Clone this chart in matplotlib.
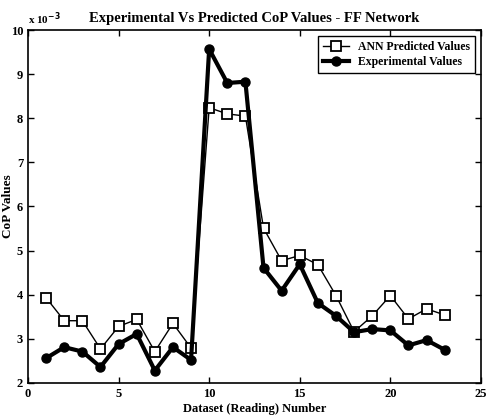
import matplotlib
matplotlib.use('Agg')
import matplotlib.pyplot as plt

# Dataset (reading) numbers
readings = list(range(1, 24))

# CoP values in units of 1e-3
ann_predicted = [3.93, 3.41, 3.41, 2.77, 3.28, 3.44, 2.71, 3.35, 2.79, 8.24, 8.10, 8.05,
                 5.51, 4.77, 4.89, 4.68, 3.98, 3.16, 3.52, 3.98, 3.45, 3.68, 3.54]
experimental = [2.56, 2.81, 2.71, 2.36, 2.88, 3.11, 2.28, 2.81, 2.52, 9.57, 8.80, 8.83,
                4.61, 4.09, 4.69, 3.81, 3.52, 3.15, 3.22, 3.19, 2.85, 2.97, 2.75]

x_ticks = [0, 5, 10, 15, 20, 25]
y_ticks = [2, 3, 4, 5, 6, 7, 8, 9, 10]

plt.rcParams['font.family'] = 'Liberation Serif'
plt.rcParams['font.weight'] = 'bold'

fig = plt.figure(figsize=(4.87, 4.18), dpi=100)
ax = fig.add_axes([0.0575, 0.084, 0.93, 0.844])

# ANN predictions: thin line with open squares
ax.plot(readings, ann_predicted, color='black', linewidth=1, marker='s', markersize=6.5,
        markerfacecolor='white', markeredgecolor='black', markeredgewidth=1.3,
        label='ANN Predicted Values')

# Experimental values: thick line with filled circles
ax.plot(readings, experimental, color='black', linewidth=3, marker='o', markersize=6.5,
        markerfacecolor='black', label='Experimental Values')

ax.set_xlim(0, 25)
ax.set_ylim(2, 10)
ax.set_xticks(x_ticks)
ax.set_yticks(y_ticks)
ax.tick_params(direction='in', top=True, right=True, labelsize=9, length=4, width=1)
for s in ax.spines.values():
    s.set_linewidth(1.2)

ax.set_title('Experimental Vs Predicted CoP Values - FF Network', fontsize=10.5,
             fontweight='bold', pad=6)
ax.set_xlabel('Dataset (Reading) Number', fontsize=9, fontweight='bold', labelpad=2)
ax.set_ylabel('CoP Values', fontsize=9.5, fontweight='bold')
ax.yaxis.set_label_coords(-0.031, 0.5)
ax.text(0.0, 1.008, r'x 10$^{-3}$', transform=ax.transAxes, fontsize=8,
        fontweight='bold', ha='left', va='bottom')

leg = ax.legend(loc='upper right', fontsize=8.5, fancybox=False, framealpha=1,
                edgecolor='black', handlelength=2.2, borderpad=0.4, labelspacing=0.3)
leg.get_frame().set_linewidth(1)

fig.savefig('out.png', dpi=100)
